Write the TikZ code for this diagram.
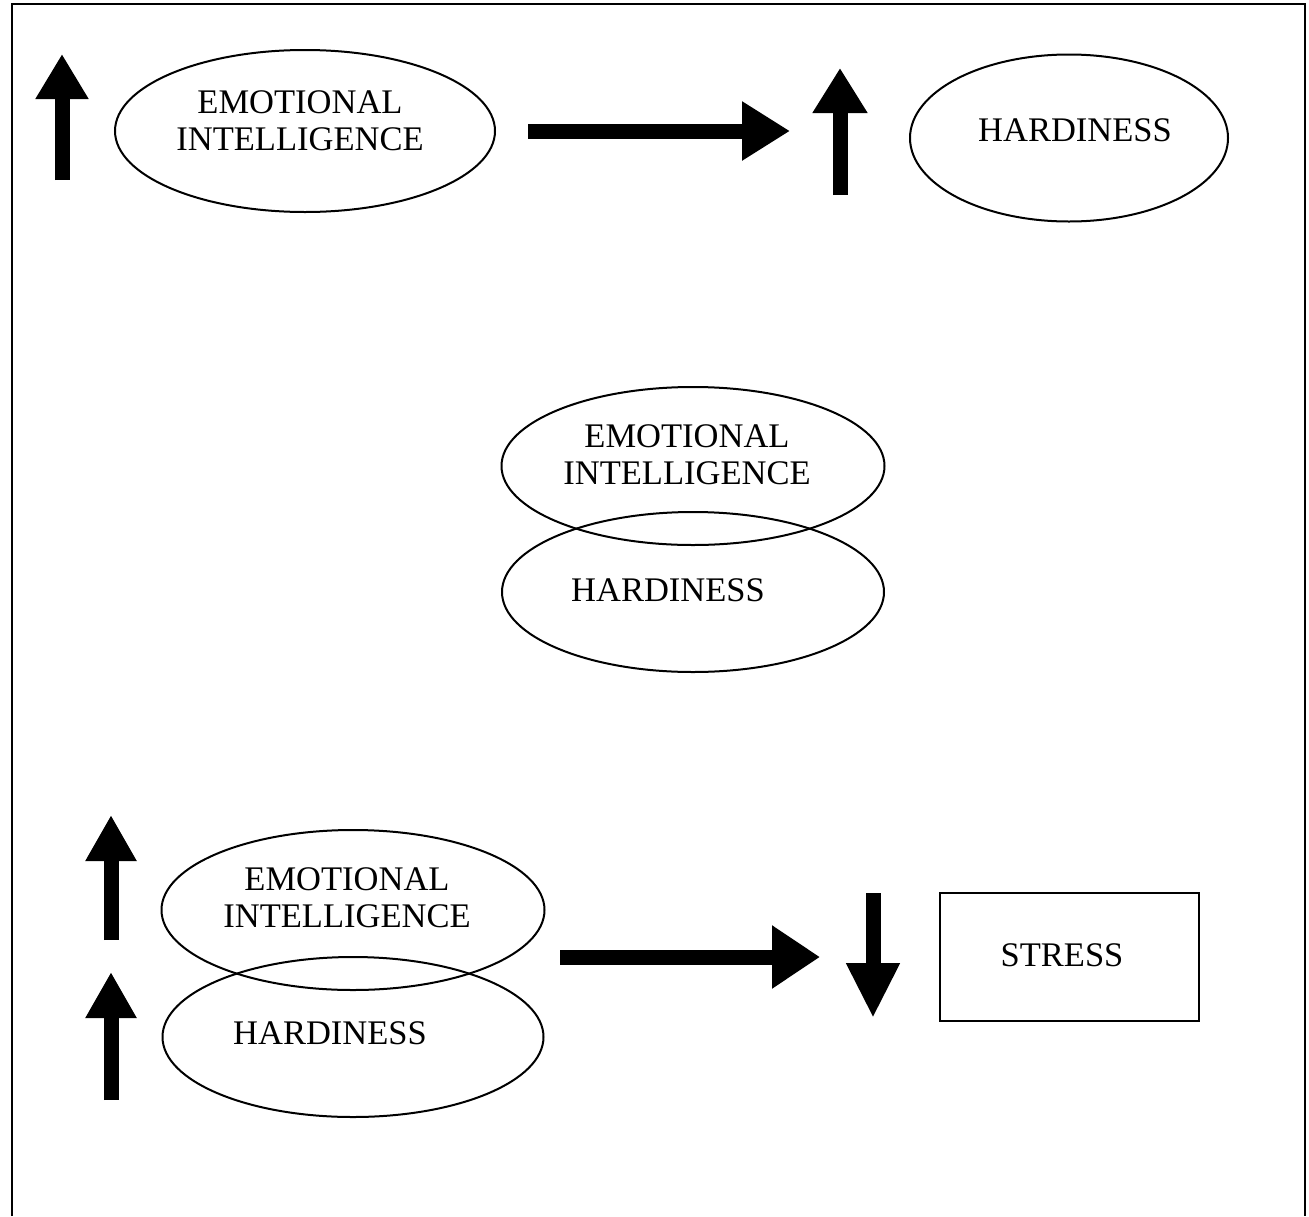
\documentclass[tikz,border=0pt]{standalone}
\usepackage{fontspec}
\setmainfont{Liberation Serif}
\usetikzlibrary{shapes.geometric,arrows.meta}
\tikzset{
  oval/.style={draw, ellipse, line width=2pt, inner sep=0pt},
  lbl/.style={align=center, inner sep=0pt, font=\fontsize{34.5}{37}\selectfont},
  frame/.style={line width=2.2pt},
}
\begin{document}
\begin{tikzpicture}[x=1pt, y=-1pt]
\useasboundingbox (0,0) rectangle (1309,1216);
% frame (open at bottom)
\coordinate (fbl) at (12,1216);
\coordinate (ftl) at (12,4);
\coordinate (ftr) at (1305,4);
\coordinate (fbr) at (1305,1216);
\draw[frame] (fbl) -- (ftl) -- (ftr) -- (fbr);

% top row
\node[oval, minimum width=380pt, minimum height=162pt] (ei1) at (305,131) {};
\node[lbl] (ei1t) at (300,121) {EMOTIONAL\\INTELLIGENCE};
\node[oval, minimum width=318pt, minimum height=167pt] (h1) at (1069,138) {};
\node[lbl] (h1t) at (1075,130) {HARDINESS};
\coordinate (a1s) at (62,180);  \coordinate (a1e) at (62,54);
\draw[line width=15pt, -{Triangle[length=45pt,width=50pt]}] (a1s) -- (a1e);
\coordinate (a2s) at (528,131); \coordinate (a2e) at (790,131);
\draw[line width=15pt, -{Triangle[length=48pt,width=56pt]}] (a2s) -- (a2e);
\coordinate (a3s) at (840,195); \coordinate (a3e) at (840,68);
\draw[line width=15pt, -{Triangle[length=45pt,width=52pt]}] (a3s) -- (a3e);

% middle
\node[oval, minimum width=383pt, minimum height=158pt] (ei2) at (693,466) {};
\node[oval, minimum width=382pt, minimum height=160pt] (h2) at (693,592) {};
\node[lbl] (ei2t) at (687,455) {EMOTIONAL\\INTELLIGENCE};
\node[lbl] (h2t) at (668,590) {HARDINESS};

% bottom
\node[oval, minimum width=383pt, minimum height=160pt] (ei3) at (353,910) {};
\node[oval, minimum width=381pt, minimum height=160pt] (h3) at (353,1037) {};
\node[lbl] (ei3t) at (347,898) {EMOTIONAL\\INTELLIGENCE};
\node[lbl] (h3t) at (330,1033) {HARDINESS};
\node[draw, line width=2.2pt, minimum width=259pt, minimum height=128pt, inner sep=0pt] (st) at (1069.5,957) {};
\node[lbl] (stt) at (1062,955) {STRESS};
\coordinate (b1s) at (111,940);  \coordinate (b1e) at (111,815);
\draw[line width=15pt, -{Triangle[length=46pt,width=48pt]}] (b1s) -- (b1e);
\coordinate (b2s) at (111,1100); \coordinate (b2e) at (111,972);
\draw[line width=15pt, -{Triangle[length=46pt,width=48pt]}] (b2s) -- (b2e);
\coordinate (b3s) at (560,957);  \coordinate (b3e) at (820,957);
\draw[line width=15pt, -{Triangle[length=48pt,width=60pt]}] (b3s) -- (b3e);
\coordinate (b4s) at (873,893);  \coordinate (b4e) at (873,1018);
\draw[line width=15pt, -{Triangle[length=55pt,width=50pt]}] (b4s) -- (b4e);
\end{tikzpicture}
\end{document}
